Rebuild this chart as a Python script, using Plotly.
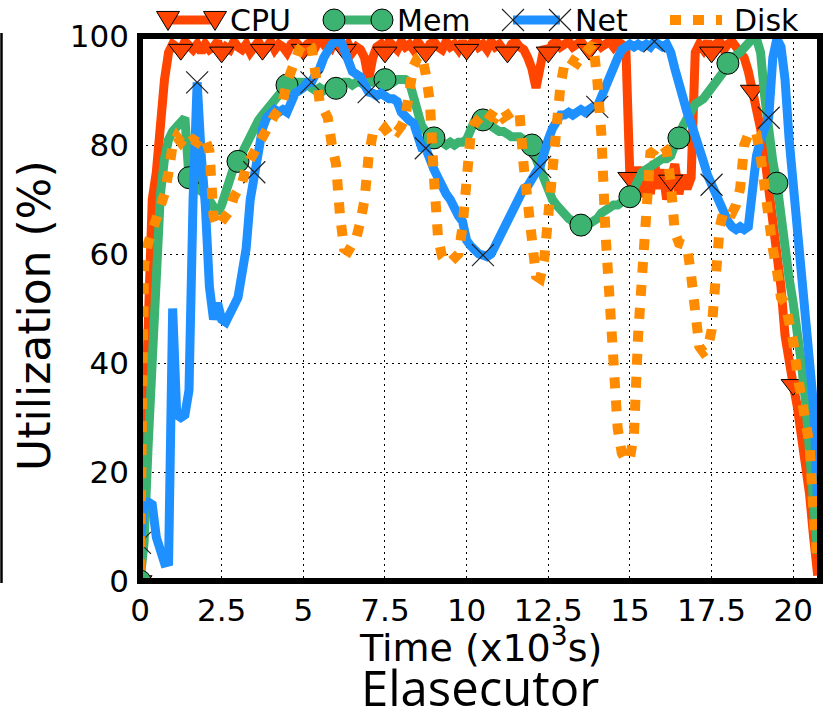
import plotly.graph_objects as go

# ---- data: utilization (%) sampled every 0.125 x10^3 s ----
TIME_STEP = 0.125

cpu = [
    0, 25, 52, 70, 75, 84, 92, 97, 98.5, 98,
    97.5, 99, 98, 97.5, 98.5, 97, 98.5, 97.5, 98, 99,
    97, 98, 97.5, 99, 98, 97.5, 98.5, 97, 98, 99,
    97.5, 98, 99, 97.5, 98.5, 98, 97, 98.5, 99, 98,
    97.5, 98.5, 99, 98, 99.5, 98.5, 99, 98, 99.5, 98.5,
    97.5, 98.5, 97, 98, 97.5, 96, 92, 96, 98, 98.5,
    97, 99, 98, 97.5, 99, 98, 98.5, 97.5, 99, 98,
    97, 98.5, 99, 98, 97.5, 99, 98, 98.5, 97.5, 99,
    97.5, 98.5, 99.5, 98, 98.5, 97.5, 99, 98, 98.5, 97.5,
    97, 98.5, 99, 98, 97.5, 96, 94, 90.5, 95.5, 98,
    97, 98.5, 99, 98, 98.5, 99, 98, 98.5, 99, 98,
    97.5, 98.5, 99, 98, 98.5, 99, 98, 99, 98.5, 98,
    74, 72, 76, 70.5, 75, 71, 77, 72, 75.5, 70,
    73.5, 76.5, 71, 74.5, 72, 74, 97, 98.5, 97.5, 99,
    97, 98.5, 99, 97.5, 98.5, 99, 98, 97, 96, 93.5,
    90, 87, 83, 78, 72, 66, 61, 54, 45, 39,
    36, 32, 27, 21, 16, 8, 1,
]

mem = [
    0, 7, 25, 43, 61, 71, 77.5, 81, 82.5, 83.5,
    84.5, 85, 74, 73, 72, 71.5, 71, 70, 68.5, 67.5,
    69, 71.5, 74, 76, 77, 78.5, 80.5, 81.5, 83, 84.5,
    85.5, 86.5, 87.5, 88, 89, 90, 91, 91, 91.5, 91.5,
    91.5, 91, 90.5, 90, 90.5, 90, 90.5, 90, 90.4, 91,
    91.5, 91.5, 91, 91.5, 91.5, 91, 91.5, 91.5, 92, 92,
    92, 92, 91.5, 92, 92, 92, 91.5, 89, 85.5, 83.5,
    82.5, 81.5, 81.3, 80.5, 80.5, 80, 80.5, 80, 80.5, 80.5,
    81, 82.5, 84.5, 85, 84.6, 84, 83.5, 83, 82.5, 82.5,
    82, 81.5, 81.5, 81.5, 81, 80.5, 80, 77.5, 75.5, 73,
    71, 70, 69, 68, 67.5, 66.5, 66, 65.5, 65.3, 65.5,
    65.5, 66, 66.5, 67.5, 68, 68.5, 69, 69, 69.5, 70,
    70.5, 72, 73.5, 75, 75.5, 76, 76.5, 77, 77.5, 77.5,
    78, 80, 81.3, 83.5, 85, 86.5, 87.5, 88, 88.5, 89.5,
    90.5, 91.5, 92.5, 94, 95, 95.5, 96.5, 97, 98, 98.5,
    99.5, 99.5, 97, 89, 82, 77, 73, 66, 61, 55.5,
    51, 46, 40, 33, 25, 15, 5,
]

net = [
    7, 14.5, 14.5, 14, 8, 5.5, 3.3, 3.5, 50, 30.5,
    30, 30.5, 35, 70, 91.5, 78, 69, 54, 48, 51,
    48, 47.5, 49.5, 50.5, 52, 56, 61, 70, 75, 78,
    83, 85, 86, 86.5, 86, 86.5, 86, 88, 89.5, 90,
    90.5, 91.5, 91.5, 93, 94, 96, 97.5, 98.5, 99, 99.5,
    97.5, 95, 93.5, 93, 92.5, 91, 89.7, 89.5, 89, 89.5,
    89, 88.5, 88.5, 88, 86, 85, 84.5, 84, 81.5, 79.5,
    79.4, 77, 75.5, 74, 72, 71, 70, 68, 67, 66,
    62.5, 61.5, 60.5, 60, 59.8, 59.5, 60, 61.5, 63, 64.5,
    66, 68, 69.5, 70.5, 72, 72.5, 74, 75, 76, 79,
    81, 83, 84.5, 85.5, 85.5, 86, 85.5, 86, 86.5, 86,
    86.5, 87, 87, 89, 91, 93, 94.5, 96, 97.5, 98,
    98.5, 98, 98.5, 98, 98.5, 98, 99, 98.5, 98, 98.5,
    97, 94, 91, 88.5, 86, 84, 82, 79, 77, 74.5,
    72.7, 71, 69, 68, 66, 65, 64.5, 65, 64.5, 65,
    72, 78, 81, 83.5, 85, 96, 99.5, 98, 92, 81,
    73, 63, 53, 46, 40, 32, 14,
]

disk = [
    2, 58, 62, 64, 66, 68, 71, 75, 80, 81.5,
    80.5, 81.5, 80.5, 81, 80.5, 81.5, 81, 79, 67, 65,
    66, 66.5, 68, 70.5, 71.5, 73, 76, 77.5, 78.5, 80,
    81.5, 83, 84, 85.5, 86.5, 88, 91.5, 93.5, 96, 97.5,
    98.5, 99, 98, 94, 88, 86.5, 85, 80, 76.5, 67,
    61, 60.5, 61.5, 63, 66, 70, 78, 82, 82.5, 82,
    83, 82, 83, 82.5, 83.5, 85, 90, 94.5, 96, 96.5,
    93, 88, 74, 63, 59.5, 58.5, 58.5, 59, 60, 65,
    72, 82, 84, 85, 85.5, 84.5, 85.5, 85, 86, 85,
    85.5, 86, 85, 85.5, 76, 69, 62, 56, 55.5, 59,
    67, 75, 84, 91, 95, 96, 95.5, 95, 96, 97,
    97.5, 98.5, 92, 82, 64, 51, 41, 28, 23.5, 22,
    22.5, 27, 45, 58, 73, 78.5, 79, 80, 80, 79,
    73, 64, 62, 61.5, 61.5, 56, 49, 43, 42, 42.5,
    46, 55, 65, 68, 67.5, 67.5, 69, 72, 80, 82,
    82.5, 82, 78, 71, 66, 61, 57, 52, 51, 48,
    44, 38, 34, 30, 25, 12, 3,
]

time_ks = [round(i * TIME_STEP, 3) for i in range(len(cpu))]

x_ticks = [0, 2.5, 5, 7.5, 10, 12.5, 15, 17.5, 20]
x_tick_labels = ["0", "2.5", "5", "7.5", "10", "12.5", "15", "17.5", "20"]
y_ticks = [0, 20, 40, 60, 80, 100]

# ---- styling ----
W, H = 828, 721
PLOT_L, PLOT_R, PLOT_T, PLOT_B = 140, 820, 36, 581
X_MAX = 20.82

C_CPU = "#FF4500"
C_MEM = "#3CB371"
C_NET = "#1E90FF"
C_DISK = "#FF8C00"
LW = 9
DISK_DASH = "11px,12px"
FONT = "DejaVu Sans"

series = [
    dict(name="CPU", y=cpu, color=C_CPU, every=10,
         marker=dict(symbol="triangle-down", size=21, color=C_CPU,
                     line=dict(width=1, color="black"))),
    dict(name="Mem", y=mem, color=C_MEM, every=12,
         marker=dict(symbol="circle", size=22, color=C_MEM,
                     line=dict(width=1, color="black"))),
    dict(name="Net", y=net, color=C_NET, every=14,
         marker=dict(symbol="x-thin-open", size=22, color="#222222",
                     line=dict(width=1.2, color="#222222"))),
]

fig = go.Figure()
for s in series:
    fig.add_trace(go.Scatter(x=time_ks, y=s["y"], mode="lines", name=s["name"],
                             line=dict(color=s["color"], width=LW),
                             showlegend=False, hoverinfo="skip"))
    k = s["every"]
    fig.add_trace(go.Scatter(x=time_ks[::k], y=s["y"][::k], mode="markers",
                             marker=s["marker"], showlegend=False, hoverinfo="skip"))
fig.add_trace(go.Scatter(x=time_ks, y=disk, mode="lines", name="Disk",
                         line=dict(color=C_DISK, width=10, dash=DISK_DASH),
                         showlegend=False, hoverinfo="skip"))


def px_x(px):
    return (px - PLOT_L) / (PLOT_R - PLOT_L)


def px_y(py):
    return (PLOT_B - py) / (PLOT_B - PLOT_T)


shapes = []
annotations = []

# frame around the axes
shapes.append(dict(type="rect", xref="paper", yref="paper", x0=0, x1=1, y0=0, y1=1,
                   line=dict(color="black", width=6), layer="above"))
# edge of the neighbouring panel
shapes.append(dict(type="line", xref="paper", yref="paper",
                   x0=px_x(1.5), x1=px_x(1.5), y0=px_y(583), y1=px_y(33),
                   line=dict(color="black", width=2.5)))

# ---- legend drawn above the axes ----
LEG_Y = 20


def tri_down(cx, cy, w=23, h=19):
    pts = [(cx - w / 2, cy - h * 0.45), (cx + w / 2, cy - h * 0.45), (cx, cy + h * 0.55)]
    return "M " + " L ".join(f"{px_x(a)},{px_y(b)}" for a, b in pts) + " Z"


def x_mark(cx, cy, r=11):
    return (f"M {px_x(cx - r)},{px_y(cy - r)} L {px_x(cx + r)},{px_y(cy + r)} "
            f"M {px_x(cx - r)},{px_y(cy + r)} L {px_x(cx + r)},{px_y(cy - r)}")


legend_items = [
    dict(label="CPU", color=C_CPU, a=168, b=215, text_x=228, kind="tri"),
    dict(label="Mem", color=C_MEM, a=334, b=382, text_x=395, kind="circle"),
    dict(label="Net", color=C_NET, a=513, b=560, text_x=573, kind="x"),
    dict(label="Disk", color=C_DISK, a=670, b=722, text_x=732, kind="dot"),
]
for it in legend_items:
    if it["kind"] == "dot":
        shapes.append(dict(type="line", xref="paper", yref="paper",
                           x0=px_x(it["a"]), x1=px_x(it["b"]),
                           y0=px_y(LEG_Y), y1=px_y(LEG_Y),
                           line=dict(color=it["color"], width=10, dash=DISK_DASH)))
    else:
        shapes.append(dict(type="line", xref="paper", yref="paper",
                           x0=px_x(it["a"]), x1=px_x(it["b"]),
                           y0=px_y(LEG_Y), y1=px_y(LEG_Y),
                           line=dict(color=it["color"], width=LW)))
        for cx in (it["a"], it["b"]):
            if it["kind"] == "tri":
                shapes.append(dict(type="path", xref="paper", yref="paper",
                                   path=tri_down(cx, LEG_Y), fillcolor=C_CPU,
                                   line=dict(color="black", width=1)))
            elif it["kind"] == "circle":
                shapes.append(dict(type="circle", xref="paper", yref="paper",
                                   x0=px_x(cx - 11), x1=px_x(cx + 11),
                                   y0=px_y(LEG_Y + 11), y1=px_y(LEG_Y - 11),
                                   fillcolor=C_MEM, line=dict(color="black", width=1)))
            else:
                shapes.append(dict(type="path", xref="paper", yref="paper",
                                   path=x_mark(cx, LEG_Y),
                                   line=dict(color="#222222", width=1.2)))
    annotations.append(dict(text=it["label"], xref="paper", yref="paper",
                            x=px_x(it["text_x"]), y=px_y(LEG_Y + 1),
                            xanchor="left", yanchor="middle", showarrow=False,
                            font=dict(family=FONT, size=30, color="black")))

# axis titles and panel caption
annotations.append(dict(text="Utilization (%)", xref="paper", yref="paper",
                        x=px_x(34), y=px_y(316), textangle=-90, showarrow=False,
                        xanchor="center", yanchor="middle",
                        font=dict(family=FONT, size=44, color="black")))
annotations.append(dict(text="Time (x10<sup>3</sup>s)", xref="paper", yref="paper",
                        x=0.5, y=px_y(645), showarrow=False,
                        xanchor="center", yanchor="middle",
                        font=dict(family=FONT, size=38, color="black")))
annotations.append(dict(text="Elasecutor", xref="paper", yref="paper",
                        x=0.5, y=px_y(687), showarrow=False,
                        xanchor="center", yanchor="middle",
                        font=dict(family="Open Sans", size=49, color="black")))

grid = dict(showgrid=True, gridcolor="black", gridwidth=1.3, griddash="2px,4px",
            zeroline=False, showline=False, ticks="",
            tickfont=dict(family=FONT, size=31, color="black"))

fig.update_layout(
    width=W, height=H,
    margin=dict(l=PLOT_L, r=W - PLOT_R, t=PLOT_T, b=H - PLOT_B, autoexpand=False),
    paper_bgcolor="white", plot_bgcolor="white",
    showlegend=False,
    shapes=shapes, annotations=annotations,
    xaxis=dict(range=[0, X_MAX], tickvals=x_ticks, ticktext=x_tick_labels,
               ticklabelstandoff=8, **grid),
    yaxis=dict(range=[0, 100], tickvals=y_ticks, ticklabelstandoff=10, **grid),
)

fig.write_html("out.html")
